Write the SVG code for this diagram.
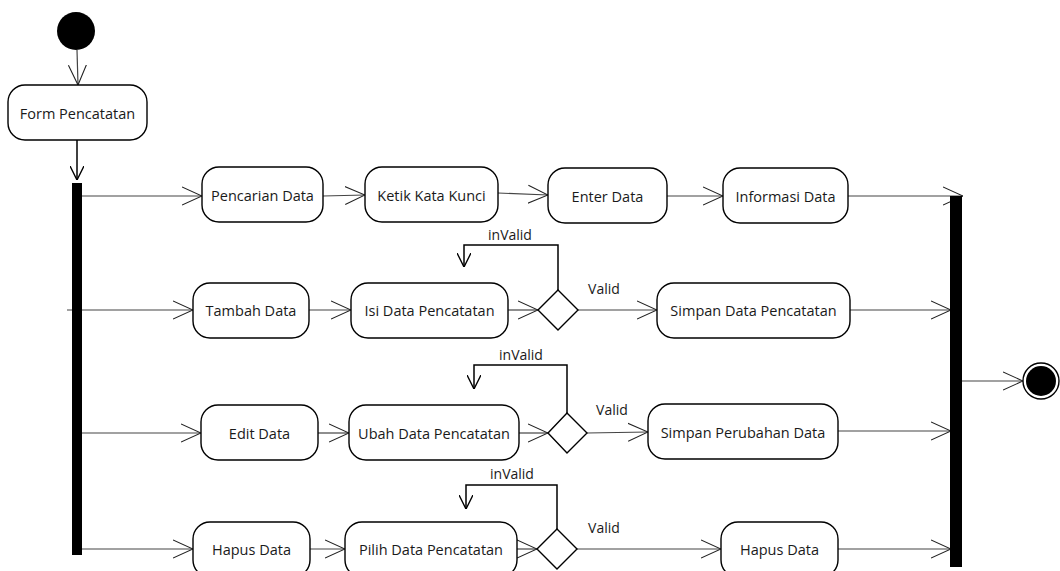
<svg xmlns="http://www.w3.org/2000/svg" width="1060" height="571" viewBox="0 0 1060 571">
<style>
.act{fill:#fff;stroke:#000;stroke-width:1.4}
.lbl{font-family:"Open Sans","Noto Sans",sans-serif;font-size:14.5px;fill:#1a1a1a;text-anchor:middle;dominant-baseline:central}
.guard{font-family:"Open Sans","Noto Sans",sans-serif;font-size:14px;fill:#1a1a1a;text-anchor:middle}
.flow{fill:none;stroke:#444;stroke-width:1.2;marker-end:url(#big)}
.loop{fill:none;stroke:#000;stroke-width:1.5;marker-end:url(#small)}
.bar{fill:#000}
</style>
<defs>
<marker id="big" viewBox="0 0 20 20" refX="20" refY="10" markerWidth="20" markerHeight="20" markerUnits="userSpaceOnUse" orient="auto">
<path d="M0,1 L20,10 L0,19" fill="none" stroke="#222" stroke-width="1.1"/>
</marker>
<marker id="small" viewBox="0 0 14 14" refX="14" refY="7" markerWidth="14" markerHeight="14" markerUnits="userSpaceOnUse" orient="auto">
<path d="M0,0 L14,7 L0,14" fill="none" stroke="#000" stroke-width="1.4"/>
</marker>
</defs>

<g id="connectors">
<path class="flow" d="M77,50 L78,85"/>
<path class="loop" d="M77,140 L77,180"/>
<path class="flow" d="M82,196 L202,196"/>
<path class="flow" d="M323,196 L365,195"/>
<path class="flow" d="M498,193 L548,195"/>
<path class="flow" d="M667,196 L723,196"/>
<path class="flow" d="M848,196 L963,196"/>
<path class="flow" d="M67,310 L193,310"/>
<path class="flow" d="M309,310 L351,310"/>
<path class="flow" d="M508,310 L538,310"/>
<path class="flow" d="M578,310 L657,310"/>
<path class="flow" d="M850,310 L951,310"/>
<path class="loop" d="M558,290 L558,245 L464,245 L464,267"/>
<path class="flow" d="M82,433 L201,433"/>
<path class="flow" d="M318,433 L349,433"/>
<path class="flow" d="M519,433 L548,433"/>
<path class="flow" d="M587,433 L648,432"/>
<path class="flow" d="M838,431 L951,431"/>
<path class="loop" d="M567,413 L567,365 L474,365 L474,389"/>
<path class="flow" d="M82,549 L193,549"/>
<path class="flow" d="M310,549 L345,549"/>
<path class="flow" d="M517,549 L537,549"/>
<path class="flow" d="M577,549 L721,549"/>
<path class="flow" d="M838,549 L951,549"/>
<path class="loop" d="M557,529 L557,485 L466,485 L466,509"/>
<path class="flow" d="M962,381 L1023,381"/>
<text class="guard" x="510" y="240">inValid</text>
<text class="guard" x="604" y="294">Valid</text>
<text class="guard" x="521" y="360">inValid</text>
<text class="guard" x="612" y="415">Valid</text>
<text class="guard" x="512" y="479">inValid</text>
<text class="guard" x="604" y="533">Valid</text>
</g>

<g id="start"><circle cx="76" cy="31" r="19" fill="#000"/></g>
<g id="form"><rect class="act" x="8" y="85" width="139" height="55" rx="17"/><text class="lbl" x="77.5" y="113">Form Pencatatan</text></g>
<g id="fork"><rect class="bar" x="72" y="183" width="10" height="372"/></g>
<g id="join"><rect class="bar" x="950" y="196" width="12" height="371"/></g>
<g id="end"><circle cx="1041" cy="381" r="18" fill="#fff" stroke="#000" stroke-width="1.4"/><circle cx="1041" cy="381" r="15" fill="#000"/></g>

<g id="pencarian"><rect class="act" x="202" y="167" width="121" height="55" rx="17"/><text class="lbl" x="262.5" y="195">Pencarian Data</text></g>
<g id="ketik"><rect class="act" x="365" y="167" width="133" height="55" rx="17"/><text class="lbl" x="431.5" y="195">Ketik Kata Kunci</text></g>
<g id="enter"><rect class="act" x="548" y="168" width="119" height="55" rx="17"/><text class="lbl" x="607.5" y="196">Enter Data</text></g>
<g id="informasi"><rect class="act" x="723" y="168" width="125" height="55" rx="17"/><text class="lbl" x="785.5" y="196">Informasi Data</text></g>

<g id="tambah"><rect class="act" x="193" y="283" width="116" height="55" rx="17"/><text class="lbl" x="251" y="310">Tambah Data</text></g>
<g id="isi"><rect class="act" x="351" y="283" width="157" height="55" rx="17"/><text class="lbl" x="429.5" y="310">Isi Data Pencatatan</text></g>
<g id="dec1"><polygon points="538,310 558,290 578,310 558,330" fill="#fff" stroke="#000" stroke-width="1.4"/></g>
<g id="simpan"><rect class="act" x="657" y="283" width="193" height="55" rx="17"/><text class="lbl" x="753.5" y="310">Simpan Data Pencatatan</text></g>

<g id="edit"><rect class="act" x="201" y="405" width="117" height="55" rx="17"/><text class="lbl" x="259.5" y="433">Edit Data</text></g>
<g id="ubah"><rect class="act" x="349" y="405" width="170" height="55" rx="17"/><text class="lbl" x="434" y="433">Ubah Data Pencatatan</text></g>
<g id="dec2"><polygon points="548,433 567,413 587,433 567,453" fill="#fff" stroke="#000" stroke-width="1.4"/></g>
<g id="simpanubah"><rect class="act" x="648" y="404" width="190" height="55" rx="17"/><text class="lbl" x="743" y="432">Simpan Perubahan Data</text></g>

<g id="hapus"><rect class="act" x="193" y="522" width="117" height="55" rx="17"/><text class="lbl" x="251.5" y="549">Hapus Data</text></g>
<g id="pilih"><rect class="act" x="345" y="522" width="172" height="55" rx="17"/><text class="lbl" x="431" y="549">Pilih Data Pencatatan</text></g>
<g id="dec3"><polygon points="537,549 557,529 577,549 557,569" fill="#fff" stroke="#000" stroke-width="1.4"/></g>
<g id="hapus2"><rect class="act" x="721" y="522" width="117" height="55" rx="17"/><text class="lbl" x="779.5" y="549">Hapus Data</text></g>
</svg>
